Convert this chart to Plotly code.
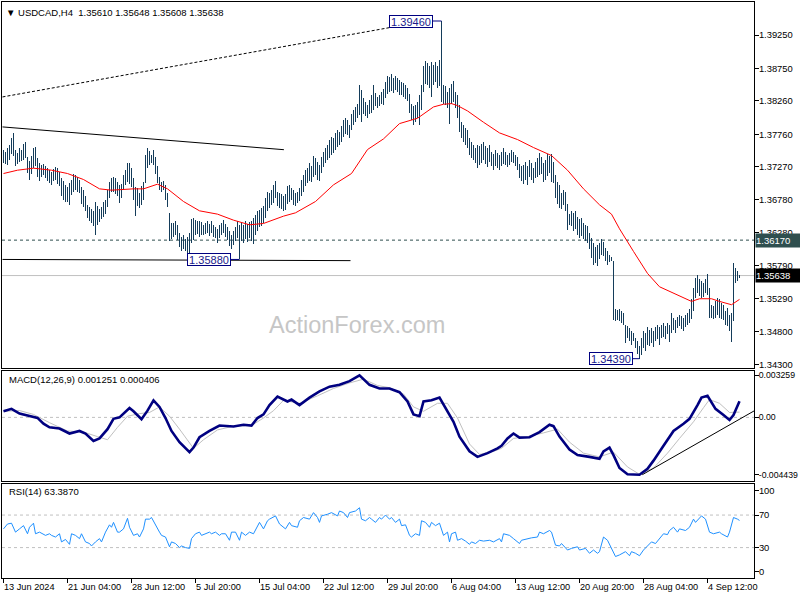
import plotly.graph_objects as go

# ---------------- data (H4 bars, index 0 = 13 Jun 2024) ----------------
HIGHS = [
    1.3753, 1.3750, 1.3756, 1.3760, 1.3770, 1.3778, 1.3752, 1.3748, 1.3755, 1.3752,
    1.3762, 1.3765, 1.3742, 1.3736, 1.3744, 1.3756, 1.3757, 1.3740, 1.3733, 1.3730,
    1.3731, 1.3728, 1.3726, 1.3722, 1.3720, 1.3724, 1.3727, 1.3725, 1.3720, 1.3711,
    1.3706, 1.3700, 1.3697, 1.3703, 1.3707, 1.3717, 1.3715, 1.3712, 1.3708, 1.3697,
    1.3692, 1.3684, 1.3670, 1.3666, 1.3663, 1.3660, 1.3675, 1.3668, 1.3664, 1.3666,
    1.3675, 1.3678, 1.3693, 1.3705, 1.3710, 1.3712, 1.3710, 1.3705, 1.3700, 1.3702,
    1.3715, 1.3722, 1.3733, 1.3733, 1.3725, 1.3711, 1.3697, 1.3695, 1.3688, 1.3698,
    1.3705, 1.3745, 1.3756, 1.3751, 1.3745, 1.3753, 1.3742, 1.3728, 1.3712, 1.3704,
    1.3706, 1.3700, 1.3688, 1.3658, 1.3642, 1.3643, 1.3646, 1.3640, 1.3627, 1.3622,
    1.3625, 1.3619, 1.3622, 1.3628, 1.3648, 1.3650, 1.3647, 1.3645, 1.3646, 1.3644,
    1.3640, 1.3643, 1.3645, 1.3641, 1.3646, 1.3640, 1.3637, 1.3634, 1.3640, 1.3643,
    1.3647, 1.3641, 1.3637, 1.3630, 1.3625, 1.3630, 1.3636, 1.3645, 1.3639, 1.3642,
    1.3640, 1.3645, 1.3641, 1.3644, 1.3646, 1.3650, 1.3655, 1.3660, 1.3662, 1.3665,
    1.3668, 1.3680, 1.3690, 1.3688, 1.3693, 1.3700, 1.3706, 1.3690, 1.3688, 1.3686,
    1.3683, 1.3687, 1.3698, 1.3700, 1.3696, 1.3692, 1.3688, 1.3690, 1.3696, 1.3708,
    1.3715, 1.3722, 1.3725, 1.3733, 1.3728, 1.3744, 1.3740, 1.3734, 1.3730, 1.3742,
    1.3750, 1.3755, 1.3760, 1.3768, 1.3772, 1.3770, 1.3778, 1.3783, 1.3780, 1.3788,
    1.3797, 1.3800, 1.3797, 1.3790, 1.3806, 1.3812, 1.3817, 1.3822, 1.3850, 1.3842,
    1.3830, 1.3825, 1.3820, 1.3828, 1.3835, 1.3850, 1.3838, 1.3832, 1.3835, 1.3840,
    1.3844, 1.3855, 1.3864, 1.3862, 1.3866, 1.3860, 1.3864, 1.3861, 1.3858, 1.3855,
    1.3853, 1.3850, 1.3846, 1.3836, 1.3822, 1.3818, 1.3820, 1.3825, 1.3835, 1.3850,
    1.3878, 1.3886, 1.3883, 1.3878, 1.3885, 1.3880, 1.3884, 1.3878, 1.3888, 1.3946,
    1.3850, 1.3848, 1.3840, 1.3845, 1.3852, 1.3856, 1.3840, 1.3835, 1.3820, 1.3795,
    1.3790, 1.3785, 1.3782, 1.3770, 1.3765, 1.3760, 1.3755, 1.3760, 1.3758, 1.3762,
    1.3765, 1.3758, 1.3755, 1.3760, 1.3750, 1.3747, 1.3752, 1.3748, 1.3745, 1.3750,
    1.3755, 1.3750, 1.3745, 1.3748, 1.3753, 1.3750, 1.3745, 1.3742, 1.3732, 1.3728,
    1.3730, 1.3735, 1.3728, 1.3738, 1.3733, 1.3726, 1.3735, 1.3740, 1.3748, 1.3742,
    1.3733, 1.3738, 1.3746, 1.3744, 1.3746, 1.3735, 1.3715, 1.3705, 1.3700, 1.3688,
    1.3693, 1.3690, 1.3672, 1.3656, 1.3660, 1.3657, 1.3660, 1.3652, 1.3648, 1.3650,
    1.3643, 1.3640, 1.3638, 1.3628, 1.3620, 1.3612, 1.3606, 1.3610, 1.3613, 1.3618,
    1.3614, 1.3605, 1.3600, 1.3595, 1.3592, 1.3586, 1.3514, 1.3512, 1.3513, 1.3510,
    1.3508, 1.3490, 1.3488, 1.3485, 1.3480, 1.3478, 1.3470, 1.3465, 1.3458, 1.3470,
    1.3480, 1.3478, 1.3486, 1.3482, 1.3485, 1.3480, 1.3487, 1.3490, 1.3486, 1.3490,
    1.3492, 1.3488, 1.3492, 1.3490, 1.3508, 1.3500, 1.3497, 1.3502, 1.3505, 1.3503,
    1.3500, 1.3505, 1.3508, 1.3513, 1.3528, 1.3545, 1.3560, 1.3564, 1.3558, 1.3555,
    1.3552, 1.3558, 1.3566, 1.3545, 1.3520, 1.3518, 1.3525, 1.3530, 1.3528, 1.3522,
    1.3520, 1.3510, 1.3515, 1.3505, 1.3508, 1.3583, 1.3575, 1.3570, 1.35648,
]
LOWS = [
    1.3733, 1.3731, 1.3730, 1.3738, 1.3746, 1.3744, 1.3728, 1.3731, 1.3735, 1.3736,
    1.3738, 1.3741, 1.3718, 1.3708, 1.3716, 1.3726, 1.3728, 1.3712, 1.3706, 1.3712,
    1.3715, 1.3710, 1.3706, 1.3703, 1.3700, 1.3706, 1.3708, 1.3702, 1.3698, 1.3683,
    1.3678, 1.3675, 1.3674, 1.3670, 1.3685, 1.3690, 1.3692, 1.3690, 1.3688, 1.3672,
    1.3667, 1.3660, 1.3650, 1.3645, 1.3642, 1.3638, 1.3625, 1.3640, 1.3644, 1.3648,
    1.3652, 1.3656, 1.3666, 1.3680, 1.3689, 1.3690, 1.3686, 1.3684, 1.3673, 1.3680,
    1.3693, 1.3700, 1.3705, 1.3702, 1.3697, 1.3678, 1.3653, 1.3668, 1.3665, 1.3670,
    1.3677, 1.3703, 1.3726, 1.3730, 1.3733, 1.3730, 1.3717, 1.3703, 1.3692, 1.3690,
    1.3692, 1.3678, 1.3666, 1.3616, 1.3618, 1.3622, 1.3624, 1.3617, 1.3606, 1.3600,
    1.3603, 1.3600, 1.3597, 1.3598, 1.3612, 1.3617, 1.3625, 1.3626, 1.3622, 1.3625,
    1.3624, 1.3626, 1.3627, 1.3623, 1.3628, 1.3622, 1.3620, 1.3613, 1.3620, 1.3625,
    1.3627, 1.3622, 1.3617, 1.3608, 1.3603, 1.3610, 1.3615, 1.3620, 1.3588, 1.3616,
    1.3612, 1.3618, 1.3614, 1.3620, 1.3615, 1.3611, 1.3625, 1.3630, 1.3636, 1.3638,
    1.3642, 1.3650, 1.3660, 1.3665, 1.3670, 1.3673, 1.3680, 1.3668, 1.3665, 1.3663,
    1.3660, 1.3662, 1.3672, 1.3675, 1.3677, 1.3670, 1.3668, 1.3673, 1.3676, 1.3683,
    1.3690, 1.3698, 1.3703, 1.3706, 1.3705, 1.3712, 1.3715, 1.3708, 1.3706, 1.3718,
    1.3727, 1.3733, 1.3737, 1.3740, 1.3745, 1.3748, 1.3752, 1.3757, 1.3760, 1.3765,
    1.3772, 1.3777, 1.3775, 1.3770, 1.3782, 1.3790, 1.3795, 1.3800, 1.3805, 1.3795,
    1.3807, 1.3803, 1.3800, 1.3806, 1.3808, 1.3812, 1.3818, 1.3815, 1.3818, 1.3822,
    1.3820, 1.3830, 1.3836, 1.3840, 1.3841, 1.3838, 1.3842, 1.3840, 1.3835, 1.3835,
    1.3832, 1.3829, 1.3826, 1.3808, 1.3797, 1.3790, 1.3795, 1.3800, 1.3790, 1.3812,
    1.3840, 1.3852, 1.3850, 1.3845, 1.3832, 1.3850, 1.3855, 1.3845, 1.3848, 1.3825,
    1.3822, 1.3820, 1.3815, 1.3792, 1.3822, 1.3825, 1.3815, 1.3800, 1.3780, 1.3770,
    1.3765, 1.3760, 1.3755, 1.3745, 1.3740, 1.3738, 1.3733, 1.3725, 1.3730, 1.3733,
    1.3738, 1.3732, 1.3727, 1.3735, 1.3728, 1.3722, 1.3728, 1.3726, 1.3722, 1.3728,
    1.3732, 1.3730, 1.3727, 1.3730, 1.3735, 1.3733, 1.3728, 1.3722, 1.3710, 1.3706,
    1.3702, 1.3708, 1.3700, 1.3712, 1.3708, 1.3703, 1.3710, 1.3712, 1.3715, 1.3716,
    1.3705, 1.3708, 1.3713, 1.3718, 1.3705, 1.3703, 1.3680, 1.3672, 1.3665, 1.3664,
    1.3670, 1.3660, 1.3632, 1.3640, 1.3638, 1.3630, 1.3633, 1.3625, 1.3620, 1.3623,
    1.3618, 1.3615, 1.3612, 1.3604, 1.3590, 1.3580, 1.3583, 1.3578, 1.3588, 1.3595,
    1.3593, 1.3585, 1.3580, 1.3584, 1.3585, 1.3497, 1.3495, 1.3497, 1.3495, 1.3492,
    1.3490, 1.3463, 1.3470, 1.3466, 1.3460, 1.3465, 1.3455, 1.3446, 1.3439, 1.3445,
    1.3455, 1.3450, 1.3460, 1.3458, 1.3462, 1.3456, 1.3465, 1.3468, 1.3460, 1.3470,
    1.3472, 1.3468, 1.3476, 1.3464, 1.3478, 1.3482, 1.3478, 1.3485, 1.3488, 1.3484,
    1.3480, 1.3487, 1.3490, 1.3492, 1.3498, 1.3510, 1.3530, 1.3538, 1.3533, 1.3530,
    1.3532, 1.3538, 1.3535, 1.3500, 1.3500, 1.3498, 1.3500, 1.3505, 1.3500, 1.3498,
    1.3497, 1.3490, 1.3488, 1.3480, 1.3464, 1.3495, 1.3552, 1.3555, 1.35608,
]

# red moving average (bar index, value)
MA_IDX = [0, 7, 15, 24, 32, 40, 48, 54, 65, 70, 77, 82, 90, 98, 107, 115, 123, 130, 140, 146,
          156, 165, 174, 182, 190, 198, 207, 215, 220, 224, 227, 232, 240, 248, 257, 265, 274,
          282, 290, 298, 304, 308, 315, 322, 328, 336, 344, 348, 354, 358, 364, 368]
MA_VAL = [1.3717, 1.3722, 1.3725, 1.3722, 1.3717, 1.3708, 1.3694, 1.3692, 1.3694, 1.3694,
          1.3701, 1.3694, 1.3675, 1.3661, 1.3656, 1.3647, 1.3640, 1.3642, 1.3653, 1.3658,
          1.3675, 1.3700, 1.3717, 1.3753, 1.3769, 1.3792, 1.3800, 1.3817, 1.3821, 1.3822,
          1.3819, 1.3811, 1.3794, 1.3778, 1.3768, 1.3756, 1.3744, 1.3722, 1.3694, 1.3670,
          1.3656, 1.3634, 1.3600, 1.3567, 1.3547, 1.3536, 1.3525, 1.3529, 1.3529, 1.3525,
          1.3520, 1.3528]

# MACD(12,26,9) main line
MACD_IDX = [0, 4, 8, 13, 17, 20, 23, 28, 33, 38, 41, 45, 48, 52, 55, 58, 63, 65, 69, 72, 75, 78,
            81, 84, 88, 93, 95, 98, 103, 108, 115, 120, 124, 127, 130, 133, 137, 142, 144, 148,
            153, 158, 163, 168, 173, 178, 183, 188, 193, 198, 202, 205, 208, 210, 214, 218, 222,
            225, 228, 233, 237, 242, 247, 249, 252, 255, 258, 263, 268, 273, 275, 278, 283, 287,
            293, 298, 300, 303, 305, 308, 312, 318, 322, 325, 330, 335, 340, 343, 347, 349, 352,
            356, 360, 363, 365, 367, 368]
MACD_VAL = [0.00047, 0.00066, 0.00029, 0.00009, -0.00004, -0.00049, -0.00077, -0.00086,
            -0.00125, -0.00105, -0.00125, -0.00183, -0.00163, -0.00091, -0.00011, 0.00000,
            0.00072, 0.00047, -0.00014, 0.00052, 0.00132, 0.00081, -0.00005, -0.00105,
            -0.00192, -0.00269, -0.00234, -0.00154, -0.00105, -0.00063, -0.00071, -0.00057,
            -0.00063, -0.00005, 0.00023, 0.00095, 0.00161, 0.00123, 0.00138, 0.00095,
            0.00153, 0.00201, 0.00238, 0.00252, 0.00281, 0.00326, 0.00252, 0.00224, 0.00224,
            0.00195, 0.00123, 0.00023, 0.00009, 0.00123, 0.00132, 0.00153, 0.00052,
            -0.00034, -0.00149, -0.00263, -0.00306, -0.00277, -0.00240, -0.00220, -0.00163,
            -0.00125, -0.00157, -0.00154, -0.00114, -0.00057, -0.00068, -0.00149, -0.00249,
            -0.00292, -0.00306, -0.00320, -0.00263, -0.00234, -0.00292, -0.00392, -0.00441,
            -0.00444, -0.00398, -0.00335, -0.00220, -0.00105, -0.00049, -0.00011, 0.00095,
            0.00153, 0.00167, 0.00066, 0.00018, -0.00020, 0.00018, 0.00095, 0.001251]

# MACD signal line
SIG_IDX = [0, 8, 15, 23, 32, 40, 47, 52, 57, 62, 68, 73, 78, 83, 88, 95, 100, 107, 115, 124,
           130, 135, 140, 148, 157, 165, 173, 180, 187, 193, 200, 205, 210, 217, 222, 227, 233,
           238, 245, 249, 255, 262, 270, 277, 283, 290, 298, 305, 312, 318, 325, 332, 338, 345,
           350, 353, 358, 363, 368]
SIG_VAL = [0.00047, 0.00053, 0.00023, -0.00041, -0.00105, -0.00114, -0.00149, -0.00173,
           -0.00077, 0.00009, 0.00029, 0.00038, 0.00081, 0.00009, -0.00091, -0.00240,
           -0.00173, -0.00097, -0.00068, -0.00063, -0.00005, 0.00052, 0.00132, 0.00109,
           0.00167, 0.00224, 0.00267, 0.00296, 0.00247, 0.00230, 0.00181, 0.00081, 0.00047,
           0.00109, 0.00109, -0.00005, -0.00206, -0.00287, -0.00263, -0.00240, -0.00163,
           -0.00149, -0.00120, -0.00091, -0.00192, -0.00277, -0.00306, -0.00269, -0.00384,
           -0.00441, -0.00392, -0.00277, -0.00163, -0.00034, 0.00075, 0.00138, 0.00109,
           0.00038, 0.000406]

# RSI(14)
RSI_IDX = [0, 2, 4, 6, 8, 10, 12, 13, 15, 16, 18, 21, 23, 24, 26, 28, 29, 31, 33, 34, 36, 38,
           39, 41, 43, 44, 46, 48, 49, 51, 53, 54, 55, 57, 58, 60, 62, 63, 65, 67, 68, 70, 71,
           73, 74, 76, 78, 79, 81, 83, 84, 86, 88, 89, 91, 93, 94, 96, 98, 99, 101, 103, 104,
           106, 108, 109, 111, 113, 114, 116, 118, 119, 121, 123, 125, 127, 128, 130, 132, 133,
           135, 136, 138, 139, 141, 143, 144, 147, 148, 150, 153, 155, 157, 158, 159, 162, 164,
           167, 168, 170, 172, 173, 176, 178, 179, 181, 183, 184, 186, 188, 189, 191, 193, 194,
           196, 198, 199, 201, 203, 204, 206, 208, 209, 211, 213, 214, 216, 218, 220, 222, 223,
           224, 226, 227, 229, 231, 233, 234, 236, 238, 240, 243, 245, 248, 249, 250, 253, 255,
           258, 259, 262, 264, 267, 268, 270, 273, 274, 276, 278, 279, 282, 284, 287, 288, 291,
           293, 295, 297, 298, 300, 302, 304, 306, 308, 311, 313, 314, 316, 318, 320, 323, 324,
           326, 328, 330, 332, 333, 335, 337, 338, 341, 343, 345, 346, 348, 349, 351, 353, 355,
           358, 359, 362, 363, 365, 367, 368]
RSI_VAL = [53, 59, 60, 49, 53, 57, 47, 55, 60, 47, 49, 45, 47, 45, 43, 47, 37, 40, 34, 47, 45, 41,
           47, 37, 35, 32, 37, 41, 37, 49, 58, 55, 61, 49, 49, 53, 66, 55, 45, 47, 43, 53, 65,
           65, 67, 57, 49, 45, 43, 31, 37, 35, 30, 32, 30, 29, 41, 47, 49, 45, 47, 49, 47,
           49, 45, 47, 47, 39, 49, 49, 39, 49, 45, 49, 47, 57, 61, 53, 63, 65,
           67, 69, 59, 57, 53, 61, 57, 55, 63, 67, 65, 73, 67, 61, 69, 71, 73,
           69, 75, 73, 67, 73, 75, 79, 65, 63, 67, 65, 61, 67, 65, 70, 65, 67,
           61, 65, 57, 58, 45, 43, 47, 45, 63, 61, 55, 61, 57, 60, 45, 49, 37,
           47, 49, 39, 41, 38, 34, 37, 35, 39, 38, 39, 37, 41, 37, 47, 45, 41,
           35, 39, 41, 42, 43, 49, 47, 51, 49, 33, 32, 35, 27, 29, 31, 27, 29,
           23, 27, 23, 25, 43, 39, 29, 19, 21, 25, 20, 25, 23, 20, 27, 35, 37,
           35, 41, 47, 46, 51, 55, 49, 53, 51, 55, 65, 61, 67, 69, 65, 49, 47,
           49, 47, 43, 49, 67, 65, 63.387]

# axis labels
PRICE_TICKS = [1.3925, 1.3875, 1.3826, 1.3776, 1.3727, 1.3678, 1.3628, 1.3579, 1.3529, 1.3480, 1.3430]
PRICE_TICK_TEXT = ['1.39250', '1.38750', '1.38260', '1.37760', '1.37270', '1.36780', '1.36280',
                   '1.35790', '1.35290', '1.34800', '1.34300']
MACD_TICKS = [0.003259, 0.0, -0.004439]
MACD_TICK_TEXT = ['0.003259', '0.00', '-0.004439']
RSI_TICKS = [100, 70, 30, 0]
RSI_TICK_TEXT = ['100', '70', '30', '0']
TIME_IDX = [0, 32, 64, 96, 128, 160, 192, 224, 256, 288, 320, 352]
TIME_TEXT = ['13 Jun 2024', '21 Jun 04:00', '28 Jun 12:00', '5 Jul 20:00', '15 Jul 04:00',
             '22 Jul 12:00', '29 Jul 20:00', '6 Aug 04:00', '13 Aug 12:00', '20 Aug 20:00',
             '28 Aug 04:00', '4 Sep 12:00']

# levels and drawn lines (bar index, price)
RESISTANCE = 1.3617
LAST_PRICE = 1.35638
UPPER_DOTTED_X = [-0.5, 197.5]
UPPER_DOTTED_Y = [1.3832, 1.39385]
FALLING_LINE_X = [-0.5, 140.2]
FALLING_LINE_Y = [1.3787, 1.37528]
SUPPORT_LINE_X = [-0.5, 173.5]
SUPPORT_LINE_Y = [1.3588, 1.35862]
MACD_TREND_X = [319.4, 375.5]
MACD_TREND_Y = [-0.004439, 0.000519]
SWING_HIGH = (219, 1.3946)
SWING_LOW_1 = (118, 1.3588)
SWING_LOW_2 = (318, 1.3439)

HEADER = '\u25bc USDCAD,H4\u00a0\u00a01.35610 1.35648 1.35608 1.35638'
MACD_TITLE = 'MACD(12,26,9) 0.001251 0.000406'
RSI_TITLE = 'RSI(14) 63.3870'

# ---------------- styling ----------------
BAR_COLOR = '#143c5a'
FONT = 'Liberation Sans, Arial, sans-serif'
XR = [-0.75, 375.25]
XDOM = [2 / 800, 754 / 800]


def dom(top_px, bot_px):
    return [1 - bot_px / 600, 1 - top_px / 600]


fig = go.Figure()

fig.add_trace(go.Scatter(x=UPPER_DOTTED_X, y=UPPER_DOTTED_Y, mode='lines',
                         line=dict(color='black', width=1, dash='3px,2px'), xaxis='x', yaxis='y'))
fig.add_trace(go.Scatter(x=FALLING_LINE_X, y=FALLING_LINE_Y, mode='lines',
                         line=dict(color='black', width=1), xaxis='x', yaxis='y'))
fig.add_trace(go.Scatter(x=SUPPORT_LINE_X, y=SUPPORT_LINE_Y, mode='lines',
                         line=dict(color='black', width=1), xaxis='x', yaxis='y'))

# OHLC bars as 1px high-low strokes
bar_idx = list(range(len(HIGHS)))
bar_len = [h - l for h, l in zip(HIGHS, LOWS)]
fig.add_trace(go.Bar(x=bar_idx, y=bar_len, base=LOWS, width=0.5,
                     marker=dict(color=BAR_COLOR, line=dict(width=0)), xaxis='x', yaxis='y'))

fig.add_trace(go.Scatter(x=MA_IDX, y=MA_VAL, mode='lines', line=dict(color='#ff0000', width=1),
                         xaxis='x', yaxis='y'))

# connectors of the swing labels
HI_BOX_I, LO1_BOX_I, LO2_BOX_I = 203.5, 102.5, 303.5
for (bi, bp), box_i in ((SWING_HIGH, HI_BOX_I), (SWING_LOW_1, LO1_BOX_I), (SWING_LOW_2, LO2_BOX_I)):
    fig.add_trace(go.Scatter(x=[box_i + 11, bi], y=[bp, bp], mode='lines',
                             line=dict(color='#000080', width=1), xaxis='x', yaxis='y'))

# MACD panel
fig.add_trace(go.Scatter(x=SIG_IDX, y=SIG_VAL, mode='lines', line=dict(color='#c0c0c0', width=1),
                         xaxis='x2', yaxis='y2'))
fig.add_trace(go.Scatter(x=MACD_IDX, y=MACD_VAL, mode='lines', line=dict(color='#000080', width=2.6),
                         xaxis='x2', yaxis='y2'))
fig.add_trace(go.Scatter(x=MACD_TREND_X, y=MACD_TREND_Y, mode='lines', line=dict(color='black', width=1),
                         xaxis='x2', yaxis='y2'))

# RSI panel
fig.add_trace(go.Scatter(x=RSI_IDX, y=RSI_VAL, mode='lines', line=dict(color='#1e90ff', width=1),
                         xaxis='x3', yaxis='y3'))

shapes = [
    dict(type='line', xref='x domain', yref='y', x0=0, x1=1, y0=LAST_PRICE, y1=LAST_PRICE,
         line=dict(color='#c0c0c0', width=1), layer='below'),
    dict(type='line', xref='x domain', yref='y', x0=0, x1=1, y0=RESISTANCE, y1=RESISTANCE,
         line=dict(color='#2f4f4f', width=1, dash='3px,3px'), layer='below'),
    dict(type='line', xref='x2 domain', yref='y2', x0=0, x1=1, y0=0, y1=0,
         line=dict(color='#c0c0c0', width=1, dash='3px,3px'), layer='below'),
    dict(type='line', xref='x3 domain', yref='y3', x0=0, x1=1, y0=70, y1=70,
         line=dict(color='#c0c0c0', width=1, dash='3px,3px'), layer='below'),
    dict(type='line', xref='x3 domain', yref='y3', x0=0, x1=1, y0=30, y1=30,
         line=dict(color='#c0c0c0', width=1, dash='3px,3px'), layer='below'),
]

ann = []
ann.append(dict(xref='paper', yref='paper', x=4 / 800, y=1 - 12 / 600, xanchor='left', yanchor='middle',
                text=HEADER, showarrow=False, font=dict(family=FONT, size=9.5, color='black')))
ann.append(dict(xref='paper', yref='paper', x=7 / 800, y=1 - 379 / 600, xanchor='left', yanchor='middle',
                text=MACD_TITLE, showarrow=False, font=dict(family=FONT, size=9.5, color='black')))
ann.append(dict(xref='paper', yref='paper', x=7 / 800, y=1 - 491 / 600, xanchor='left', yanchor='middle',
                text=RSI_TITLE, showarrow=False, font=dict(family=FONT, size=9.5, color='black')))
ann.append(dict(xref='paper', yref='paper', x=357 / 800, y=1 - 325 / 600, xanchor='center', yanchor='middle',
                text='ActionForex.com', showarrow=False, font=dict(family=FONT, size=23.5, color='#c6c6c6')))
# swing labels
for (bi, bp), box_i in ((SWING_HIGH, HI_BOX_I), (SWING_LOW_1, LO1_BOX_I), (SWING_LOW_2, LO2_BOX_I)):
    ann.append(dict(xref='x', yref='y', x=box_i, y=bp, xanchor='center', yanchor='middle',
                    text=f'{bp:.5f}', showarrow=False, font=dict(family=FONT, size=11, color='#1a1a8c'),
                    bgcolor='white', bordercolor='#000080', borderwidth=1, borderpad=0,
                    width=42, height=11))
# price boxes on the right axis
ann.append(dict(xref='paper', yref='y', x=755 / 800, y=RESISTANCE, xanchor='left', yanchor='middle',
                text=f'{RESISTANCE:.5f}', showarrow=False, font=dict(family=FONT, size=9.5, color='white'),
                bgcolor='#2f4f4f', width=44, height=13, borderpad=0, align='left'))
ann.append(dict(xref='paper', yref='y', x=755 / 800, y=LAST_PRICE, xanchor='left', yanchor='middle',
                text=f'{LAST_PRICE:.5f}', showarrow=False, font=dict(family=FONT, size=9.5, color='white'),
                bgcolor='black', width=44, height=13, borderpad=0, align='left'))
# time labels
for ti, tt in zip(TIME_IDX, TIME_TEXT):
    ann.append(dict(xref='x3', yref='paper', x=ti, y=1 - 587 / 600, xanchor='left', yanchor='middle',
                    text=tt, showarrow=False, xshift=-2, font=dict(family=FONT, size=9.2, color='black')))

common_x = dict(range=XR, domain=XDOM, showgrid=False, zeroline=False, showline=True, mirror=True,
                linecolor='black', linewidth=1, fixedrange=True)


def yax(size):
    return dict(side='right', showgrid=False, zeroline=False, showline=True, mirror=True,
                linecolor='black', linewidth=1, ticks='outside', ticklen=4, tickcolor='black',
                ticklabelstandoff=-2,
                tickfont=dict(family=FONT, size=size, color='black'), fixedrange=True)


fig.update_layout(
    width=800, height=600, margin=dict(l=0, r=0, t=0, b=0, autoexpand=False),
    paper_bgcolor='white', plot_bgcolor='white', showlegend=False,
    font=dict(family=FONT, size=10, color='black'),
    barmode='overlay', bargap=0,
    xaxis=dict(anchor='y', showticklabels=False, ticks='', **common_x),
    xaxis2=dict(anchor='y2', showticklabels=False, ticks='', **common_x),
    xaxis3=dict(anchor='y3', showticklabels=False, ticks='outside', ticklen=4, tickcolor='black',
                tickvals=TIME_IDX, **common_x),
    yaxis=dict(anchor='x', domain=dom(2, 368), range=[1.34250, 1.397455],
               tickvals=PRICE_TICKS, ticktext=PRICE_TICK_TEXT, **yax(9.4)),
    yaxis2=dict(anchor='x2', domain=dom(371, 481), range=[-0.004927, 0.003592],
                tickvals=MACD_TICKS, ticktext=MACD_TICK_TEXT, **yax(8.7)),
    yaxis3=dict(anchor='x3', domain=dom(484, 578), range=[-7.4, 108.2],
                tickvals=RSI_TICKS, ticktext=RSI_TICK_TEXT, **yax(9.4)),
    shapes=shapes, annotations=ann,
)
for tr in fig.data:
    tr.hoverinfo = 'skip'

fig.write_html('out.html', config={'displayModeBar': False},
               post_script="document.body.style.margin='0';document.body.style.overflow='hidden';")
